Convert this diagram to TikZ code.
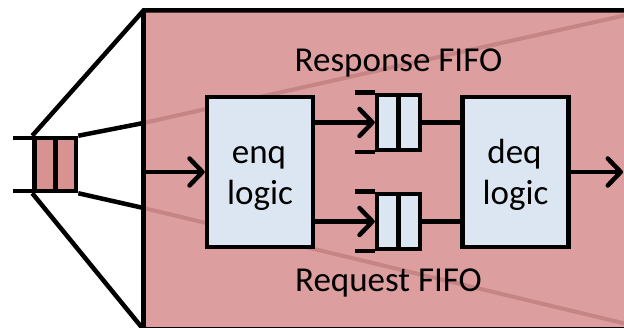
\documentclass[tikz,border=0pt]{standalone}
\usepackage{fontspec}
\setmainfont{Carlito}
\usetikzlibrary{arrows.meta}
\definecolor{zoomfill}{HTML}{DC9E9E}
\definecolor{rayline}{HTML}{C78484}
\definecolor{cellfill}{HTML}{D99292}
\definecolor{logicfill}{HTML}{DCE6F2}
\tikzset{
  wire/.style={line cap=round, line join=round},
  logicbox/.style={draw, fill=logicfill, minimum width=106pt, minimum height=150pt, inner sep=0pt},
  fifocell/.style={draw, fill=logicfill, minimum width=43pt, minimum height=55pt, inner sep=0pt},
  smallfifo/.style={draw, fill=cellfill, minimum width=41.5pt, minimum height=53pt, inner sep=0pt},
  lbl/.style={anchor=base, inner sep=0pt, font=\fontsize{35}{41}\selectfont},
  >={Straight Barb[length=13pt,width=27pt,round]}
}
\begin{document}
\begin{tikzpicture}[x=1pt,y=-1pt,line width=4.5pt]
\useasboundingbox (0,0) rectangle (624,328);
\begin{scope}
\clip (0,0) rectangle (624,328);
% magnified region
\fill[zoomfill] (143.5,10.5) rectangle (660,329.5);
% small FIFO on the left
\draw[line cap=butt] (13,138) -- (76,138);
\draw[line cap=butt] (13,191) -- (76,191);
\node[smallfifo] (small) at (55.25,164.5) {};
\draw (small.north) -- (small.south);
% perspective rays
\coordinate (rayT) at (143.5,123);
\coordinate (rayB) at (143.5,208);
\coordinate (farT) at (660,7.5);
\coordinate (farB) at (660,332);
\draw[rayline, line width=4pt] (rayT) -- (farT);
\draw[rayline, line width=4pt] (rayB) -- (farB);
\draw[line join=miter] (small.north west) -- (143.5,10.5) -- (660,10.5);
\draw (143.5,10.5) -- (143.5,329.5) -- (660,329.5);
\draw (small.south west) -- (143.5,329.5);
\draw (small.north east) -- (rayT);
\draw (small.south east) -- (rayB);
% logic blocks
\node[logicbox] (enq) at (260,172) {};
\node[logicbox] (deq) at (515.5,172) {};
\node[lbl] (enqA) at (259,164) {enq};
\node[lbl] (enqB) at (260,205) {logic};
\node[lbl] (deqA) at (514.5,164) {deq};
\node[lbl] (deqB) at (515.5,205) {logic};
% FIFOs
\node[fifocell] (fifoT) at (398.5,122.5) {};
\node[fifocell] (fifoB) at (398.5,221.5) {};
\foreach \f in {fifoT,fifoB}{
  \draw (\f.north) -- (\f.south);
  \draw (\f.north west) -- ++(-20,0);
  \draw (\f.south west) -- ++(-20,0);
}
% connections
\coordinate (inp) at (143.5,172);
\coordinate (outp) at (623,172);
\draw[wire,->] (inp) -- (enq.west);
\draw[wire,->] (enq.east |- fifoT.west) -- (fifoT.west);
\draw[wire,->] (enq.east |- fifoB.west) -- (fifoB.west);
\draw[wire] (fifoT.east) -- (deq.west |- fifoT.east);
\draw[wire] (fifoB.east) -- (deq.west |- fifoB.east);
\draw[wire,->] (deq.east) -- (outp);
% labels
\node[lbl] (resp) at (398.5,72) {Response FIFO};
\node[lbl] (req) at (388.5,292) {Request FIFO};
\end{scope}
\end{tikzpicture}
\end{document}
